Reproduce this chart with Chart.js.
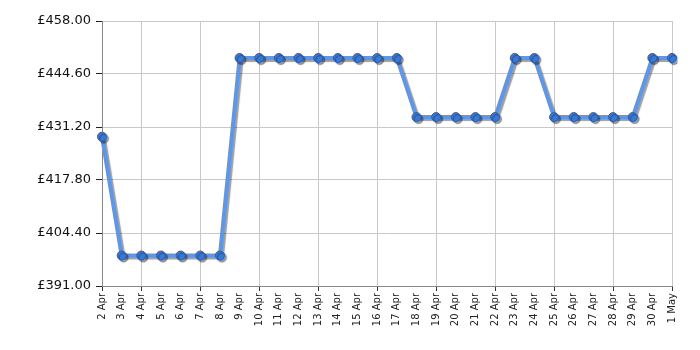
<!DOCTYPE html>
<html>
    <head>
        <meta charset="utf-8">
        <style>
            html, body { margin: 0; padding: 0; background: #fff; }
            #wrap { width: 700px; height: 350px; }
        </style>
    </head>
    <body>
	<div id="wrap">
		<canvas id="myChart" width="700" height="350"></canvas>
	</div>

        <script src="https://cdn.jsdelivr.net/npm/chart.js"></script>

        <script>
		const labels = ['2 Apr','3 Apr','4 Apr','5 Apr','6 Apr','7 Apr','8 Apr','9 Apr','10 Apr','11 Apr',
			'12 Apr','13 Apr','14 Apr','15 Apr','16 Apr','17 Apr','18 Apr','19 Apr','20 Apr','21 Apr',
			'22 Apr','23 Apr','24 Apr','25 Apr','26 Apr','27 Apr','28 Apr','29 Apr','30 Apr','1 May'];

		const prices = [428.75, 398.70, 398.70, 398.70, 398.70, 398.70, 398.70, 448.65, 448.65, 448.65,
			448.65, 448.65, 448.65, 448.65, 448.65, 448.65, 433.70, 433.70, 433.70, 433.70,
			433.70, 448.65, 448.65, 433.70, 433.70, 433.70, 433.70, 433.70, 448.65, 448.65];

		const yMin = 391, yMax = 458, yStep = 13.4;

		// gray drop shadow under the line and dots
		const shadowPlugin = {
			id: 'shadow',
			beforeDatasetsDraw(chart) {
				const c = chart.ctx;
				c.save();
				c.shadowColor = 'rgba(0,0,0,0.38)';
				c.shadowBlur = 1;
				c.shadowOffsetX = 2;
				c.shadowOffsetY = 2;
			},
			afterDatasetsDraw(chart) {
				chart.ctx.restore();
			}
		};

		function showGrid(i) {
			return i === 0 || (i - 2) % 3 === 0;
		}

		const ctx = document.getElementById('myChart');

		new Chart(ctx, {
			type: 'line',
			data: {
				labels: labels,
				datasets: [{
					data: prices,
					borderColor: '#6096e6',
					borderWidth: 4,
					tension: 0,
					fill: false,
					pointRadius: 4.5,
					pointBackgroundColor: '#3b78d2',
					pointBorderColor: '#2b5db0',
					pointBorderWidth: 1
				}]
			},
			options: {
				responsive: false,
				animation: false,
				plugins: {
					legend: { display: false },
					tooltip: { enabled: false }
				},
				layout: { padding: { top: 21, right: 28, left: 0, bottom: 0 } },
				scales: {
					x: {
						offset: false,
						afterFit: function(axis) { axis.height = 64; },
						border: { color: '#888', width: 1 },
						grid: {
							color: function(c) { return showGrid(c.index) ? '#c8c8c8' : 'rgba(0,0,0,0)'; },
							tickColor: function(c) { return showGrid(c.index) ? '#333' : 'rgba(0,0,0,0)'; },
							tickLength: 5
						},
						ticks: {
							autoSkip: false,
							maxRotation: 90,
							minRotation: 90,
							padding: 2,
							color: '#222',
							font: { family: 'DejaVu Sans', size: 10 }
						}
					},
					y: {
						min: yMin,
						max: yMax,
						afterFit: function(axis) { axis.width = 102; },
						afterBuildTicks: function(axis) {
							const t = [];
							for (let k = 0; k <= 5; k++) t.push({ value: yMin + k * yStep });
							axis.ticks = t;
						},
						border: { color: '#888', width: 1 },
						grid: {
							color: '#c8c8c8',
							tickColor: '#222',
							tickLength: 6
						},
						ticks: {
							padding: 5,
							color: '#111',
							font: { family: 'DejaVu Sans', size: 13 },
							callback: function(v) { return '£' + Number(v).toFixed(2); }
						}
					}
				}
			},
			plugins: [shadowPlugin]
		});
        </script>
    </body>
</html>
